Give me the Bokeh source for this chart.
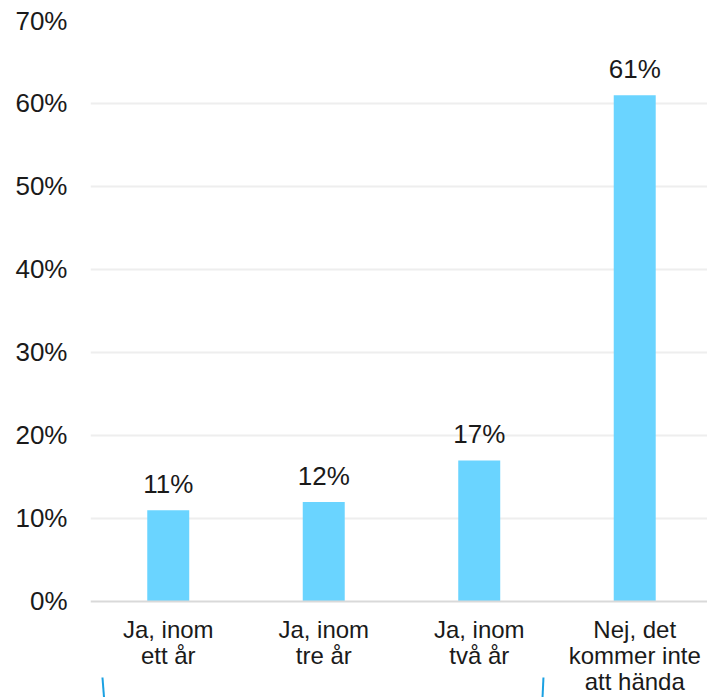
from bokeh.plotting import figure
from bokeh.models import Range1d, FixedTicker, Span, ColumnDataSource
from bokeh.core.properties import value
from bokeh.embed import file_html
from bokeh.resources import INLINE

# Survey answers and their shares (percent)
categories = ["Ja, inom\nett år", "Ja, inom\ntre år", "Ja, inom\ntvå år", "Nej, det\nkommer inte\natt hända"]
shares = [11, 12, 17, 61]
value_labels = ["11%", "12%", "17%", "61%"]

y_ticks = [0, 10, 20, 30, 40, 50, 60, 70]
y_tick_labels = ["0%", "10%", "20%", "30%", "40%", "50%", "60%", "70%"]

FONT = "Liberation Sans"
BAR_COLOR = "#6AD4FF"
TEXT_COLOR = "#1A1A1A"

positions = list(range(1, len(categories) + 1))
src = ColumnDataSource(dict(x=positions, top=shares, label=value_labels, cat=categories))

p = figure(
    width=707, height=697,
    output_backend="svg", toolbar_location=None,
    x_axis_location=None,
    x_range=Range1d(0.5, 4.468),
    y_range=Range1d(-11.57, 70),
    min_border_left=90, min_border_right=0,
    min_border_top=20, min_border_bottom=0,
)
p.outline_line_color = None
p.background_fill_color = "white"
p.border_fill_color = "white"

# horizontal grid
p.xgrid.visible = False
p.ygrid.ticker = FixedTicker(ticks=y_ticks[1:])
p.ygrid.grid_line_color = "#EEEEEE"
p.ygrid.grid_line_width = 2

# baseline
p.add_layout(Span(location=0, dimension="width", line_color="#D9D9D9", line_width=2))

# y axis: percentage labels only
yax = p.yaxis[0]
yax.ticker = FixedTicker(ticks=y_ticks)
yax.major_label_overrides = {t: lab for t, lab in zip(y_ticks, y_tick_labels)}
yax.axis_line_color = None
yax.major_tick_line_color = None
yax.minor_tick_line_color = None
yax.major_tick_out = 0
yax.major_tick_in = 0
yax.major_label_standoff = 23
yax.major_label_text_font = FONT
yax.major_label_text_font_size = "26px"
yax.major_label_text_color = TEXT_COLOR

# bars
p.vbar(x="x", top="top", bottom=0, width=0.27, source=src,
       fill_color=BAR_COLOR, line_color=None)

# value labels above bars
p.text(x="x", y="top", text="label", source=src,
       text_font=value(FONT), text_font_size="26px", text_color=TEXT_COLOR,
       text_align="center", text_baseline="alphabetic", y_offset=-26)

# category labels below the baseline
p.text(x="x", y=-1.75, text="cat", source=src,
       text_font=value(FONT), text_font_size="24px", text_color=TEXT_COLOR,
       text_align="center", text_baseline="top", text_line_height=0.96)

# bracket edges under the categories
p.line(x=[0.577, 0.587], y=[-9.16, -11.57], line_color="#1BA1E2", line_width=2)
p.line(x=[3.413, 3.407], y=[-9.16, -11.57], line_color="#1BA1E2", line_width=2)

open("out.html", "w").write(file_html(p, INLINE))
